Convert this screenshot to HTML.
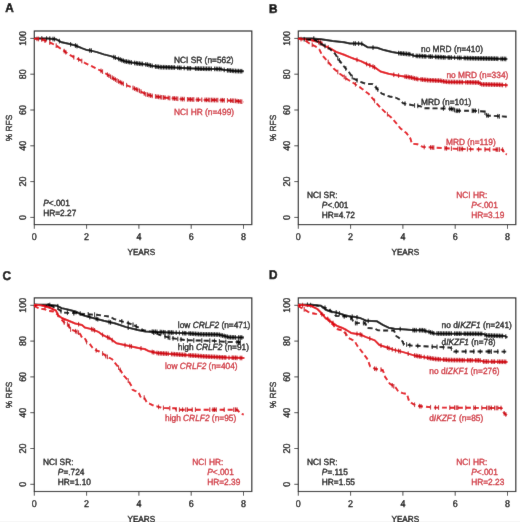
<!DOCTYPE html><html><head><meta charset="utf-8"><style>html,body{margin:0;padding:0;background:#fff;}svg{display:block;text-rendering:geometricPrecision;}</style></head><body>
<svg width="520" height="522" viewBox="0 0 520 522" font-family='"Liberation Sans", sans-serif'>
<defs><filter id="bl" x="0" y="0" width="1" height="1"><feConvolveMatrix order="3" kernelMatrix="0.01 0.05 0.01 0.05 0.76 0.05 0.01 0.05 0.01" preserveAlpha="true" edgeMode="duplicate"/></filter></defs><g filter="url(#bl)">
<style>.tk{fill:#000;stroke:#000;stroke-width:0.3px} .lk{fill:#000;stroke:#000;stroke-width:0.3px} .lr{fill:#cf2a36;stroke:#cf2a36;stroke-width:0.3px} .pl{fill:#000;stroke:#000;stroke-width:0.45px}</style>
<rect width="520" height="522" fill="#fff"/>
<g transform="translate(0,0)">
<text transform="translate(5.3,11.8) scale(1,1.07)" font-size="11.8" font-weight="bold" class="pl">A</text>
<rect x="34.3" y="31.0" width="217.5" height="193.6" fill="none" stroke="#1a1a1a" stroke-width="1.15"/>
<line x1="30.3" y1="217.4" x2="34.3" y2="217.4" stroke="#333" stroke-width="0.9"/>
<text transform="translate(25.6,217.4) rotate(-90) scale(1,1.1)" text-anchor="middle" font-size="8.95" class="tk">0</text>
<line x1="30.3" y1="181.6" x2="34.3" y2="181.6" stroke="#333" stroke-width="0.9"/>
<text transform="translate(25.6,181.6) rotate(-90) scale(1,1.1)" text-anchor="middle" font-size="8.95" class="tk">20</text>
<line x1="30.3" y1="145.8" x2="34.3" y2="145.8" stroke="#333" stroke-width="0.9"/>
<text transform="translate(25.6,145.8) rotate(-90) scale(1,1.1)" text-anchor="middle" font-size="8.95" class="tk">40</text>
<line x1="30.3" y1="110.0" x2="34.3" y2="110.0" stroke="#333" stroke-width="0.9"/>
<text transform="translate(25.6,110.0) rotate(-90) scale(1,1.1)" text-anchor="middle" font-size="8.95" class="tk">60</text>
<line x1="30.3" y1="74.2" x2="34.3" y2="74.2" stroke="#333" stroke-width="0.9"/>
<text transform="translate(25.6,74.2) rotate(-90) scale(1,1.1)" text-anchor="middle" font-size="8.95" class="tk">80</text>
<line x1="30.3" y1="38.4" x2="34.3" y2="38.4" stroke="#333" stroke-width="0.9"/>
<text transform="translate(25.6,38.4) rotate(-90) scale(1,1.1)" text-anchor="middle" font-size="8.95" class="tk">100</text>
<line x1="34.3" y1="224.6" x2="34.3" y2="228.8" stroke="#333" stroke-width="0.9"/>
<text transform="translate(34.3,239.9) scale(1,1.1)" text-anchor="middle" font-size="8.95" class="tk">0</text>
<line x1="86.6" y1="224.6" x2="86.6" y2="228.8" stroke="#333" stroke-width="0.9"/>
<text transform="translate(86.6,239.9) scale(1,1.1)" text-anchor="middle" font-size="8.95" class="tk">2</text>
<line x1="138.9" y1="224.6" x2="138.9" y2="228.8" stroke="#333" stroke-width="0.9"/>
<text transform="translate(138.9,239.9) scale(1,1.1)" text-anchor="middle" font-size="8.95" class="tk">4</text>
<line x1="191.2" y1="224.6" x2="191.2" y2="228.8" stroke="#333" stroke-width="0.9"/>
<text transform="translate(191.2,239.9) scale(1,1.1)" text-anchor="middle" font-size="8.95" class="tk">6</text>
<line x1="243.5" y1="224.6" x2="243.5" y2="228.8" stroke="#333" stroke-width="0.9"/>
<text transform="translate(243.5,239.9) scale(1,1.1)" text-anchor="middle" font-size="8.95" class="tk">8</text>
<text transform="translate(141.3,254.7) scale(1,1.07)" text-anchor="middle" font-size="8.2" class="tk">YEARS</text>
<text transform="translate(11.9,128) rotate(-90) scale(1,1.05)" text-anchor="middle" font-size="8.4" class="tk">% RFS</text>
</g>
<path d="M34.0,38.4 L47.8,38.6 L55.9,39.2 L61.7,42.3 L68.6,43.8 L75.5,45.5 L82.4,48.4 L87.0,50.1 L90.0,50.4 L96.9,52.1 L103.8,54.4 L110.8,56.1 L117.7,58.5 L124.6,61.3 L131.5,62.5 L138.4,63.6 L146.0,64.4 L152.9,66.1 L159.8,67.1 L173.7,67.5 L187.5,68.2 L200.0,68.7 L220.8,69.0 L223.0,69.8 L234.6,71.0 L243.8,71.3" fill="none" stroke="#000" stroke-width="2.0" stroke-linejoin="round"/>
<path d="M41.8,36.2v4.6M46.6,36.3v4.6M49.8,36.4v4.6M53.0,36.7v4.6M54.6,36.8v4.6M59.4,38.8v4.6M70.6,42.0v4.6M75.4,43.2v4.6M77.0,43.8v4.6M89.8,48.1v4.6M91.4,48.4v4.6M113.8,54.8v4.6M115.4,55.4v4.6M118.6,56.6v4.6M120.2,57.2v4.6M121.8,57.9v4.6M123.4,58.5v4.6M125.0,59.1v4.6M126.6,59.3v4.6M128.2,59.6v4.6M129.8,59.9v4.6M131.4,60.2v4.6M134.6,60.7v4.6M136.2,60.9v4.6M137.8,61.2v4.6M139.4,61.4v4.6M141.0,61.6v4.6M142.6,61.7v4.6M145.8,62.1v4.6M147.4,62.4v4.6M149.0,62.8v4.6M150.6,63.2v4.6M152.2,63.6v4.6M155.4,64.2v4.6M157.0,64.4v4.6M158.6,64.6v4.6M160.2,64.8v4.6M161.8,64.9v4.6M163.4,64.9v4.6M165.0,64.9v4.6M166.6,65.0v4.6M168.2,65.0v4.6M169.8,65.1v4.6M171.4,65.1v4.6M173.0,65.2v4.6M174.6,65.2v4.6M177.8,65.4v4.6M179.4,65.5v4.6M181.0,65.6v4.6M184.2,65.7v4.6M187.4,65.9v4.6M189.0,66.0v4.6M190.6,66.0v4.6M195.4,66.2v4.6M197.0,66.3v4.6M198.6,66.3v4.6M200.2,66.4v4.6M201.8,66.4v4.6M203.4,66.4v4.6M205.0,66.5v4.6M206.6,66.5v4.6M208.2,66.5v4.6M209.8,66.5v4.6M211.4,66.6v4.6M214.6,66.6v4.6M216.2,66.6v4.6M217.8,66.7v4.6M219.4,66.7v4.6M221.0,66.8v4.6M224.2,67.6v4.6M227.4,68.0v4.6M229.0,68.1v4.6M230.6,68.3v4.6M232.2,68.5v4.6M233.8,68.6v4.6M235.4,68.7v4.6M237.0,68.8v4.6M238.6,68.8v4.6M240.2,68.9v4.6M241.8,68.9v4.6" stroke="#000" stroke-width="1.0" fill="none"/>
<path d="M34.0,38.6 L40.9,39.2 L45.5,40.9 L51.3,43.2 L57.1,46.1 L62.8,50.1 L68.6,54.2 L74.4,57.6 L80.1,60.0 L84.7,62.8 L88.2,64.6 L90.0,65.4 L96.9,68.8 L103.8,72.3 L110.8,76.9 L117.7,80.9 L124.6,84.4 L131.5,87.3 L138.4,90.2 L146.0,94.4 L152.9,96.1 L163.3,97.5 L180.6,99.0 L200.0,99.8 L223.0,100.2 L234.6,100.8 L243.8,101.9" fill="none" stroke="#e4000f" stroke-width="1.9" stroke-linejoin="round" stroke-dasharray="5,3"/>
<path d="M37.0,36.6v4.6M38.6,36.7v4.6M41.8,37.2v4.6M45.0,38.4v4.6M49.8,40.3v4.6M56.2,43.4v4.6M64.2,48.8v4.6M65.8,49.9v4.6M73.8,54.9v4.6M78.6,57.1v4.6M81.8,58.7v4.6M101.0,68.6v4.6M102.6,69.4v4.6M107.4,72.4v4.6M109.0,73.4v4.6M110.6,74.5v4.6M112.2,75.4v4.6M113.8,76.3v4.6M115.4,77.3v4.6M117.0,78.2v4.6M118.6,79.1v4.6M120.2,79.9v4.6M121.8,80.7v4.6M123.4,81.5v4.6M126.6,82.9v4.6M133.0,85.6v4.6M134.6,86.3v4.6M136.2,87.0v4.6M137.8,87.6v4.6M139.4,88.5v4.6M141.0,89.3v4.6M144.2,91.1v4.6M145.8,92.0v4.6M147.4,92.4v4.6M149.0,92.8v4.6M150.6,93.2v4.6M152.2,93.6v4.6M155.4,94.1v4.6M157.0,94.4v4.6M158.6,94.6v4.6M160.2,94.8v4.6M161.8,95.0v4.6M163.4,95.2v4.6M165.0,95.3v4.6M168.2,95.6v4.6M169.8,95.8v4.6M173.0,96.0v4.6M174.6,96.2v4.6M176.2,96.3v4.6M177.8,96.5v4.6M181.0,96.7v4.6M182.6,96.8v4.6M184.2,96.8v4.6M187.4,97.0v4.6M189.0,97.0v4.6M190.6,97.1v4.6M192.2,97.2v4.6M193.8,97.2v4.6M197.0,97.4v4.6M198.6,97.4v4.6M201.8,97.5v4.6M205.0,97.6v4.6M206.6,97.6v4.6M208.2,97.6v4.6M209.8,97.7v4.6M211.4,97.7v4.6M213.0,97.7v4.6M214.6,97.8v4.6M216.2,97.8v4.6M217.8,97.8v4.6M221.0,97.9v4.6M222.6,97.9v4.6M224.2,98.0v4.6M227.4,98.1v4.6M230.6,98.3v4.6M232.2,98.4v4.6M233.8,98.5v4.6M235.4,98.6v4.6M237.0,98.8v4.6M238.6,99.0v4.6M240.2,99.2v4.6M241.8,99.4v4.6" stroke="#c4000e" stroke-width="1.0" fill="none"/>
<text transform="translate(174,62.6) scale(1,1.07)" font-size="8.35" class="lk">NCI SR (n=562)</text>
<text transform="translate(174,115.0) scale(1,1.07)" font-size="8.35" class="lr">NCI HR (n=499)</text>
<text transform="translate(43.2,206) scale(1,1.07)" font-size="8.35" class="lk"><tspan font-style="italic">P</tspan>&lt;.001</text>
<text transform="translate(43.2,216) scale(1,1.07)" font-size="8.35" class="lk">HR=2.27</text>
<g transform="translate(264,0)">
<text transform="translate(5.1,12.5) scale(1,1.07)" font-size="11.8" font-weight="bold" class="pl">B</text>
<rect x="34.3" y="31.0" width="217.5" height="193.6" fill="none" stroke="#1a1a1a" stroke-width="1.15"/>
<line x1="30.3" y1="217.4" x2="34.3" y2="217.4" stroke="#333" stroke-width="0.9"/>
<text transform="translate(25.6,217.4) rotate(-90) scale(1,1.1)" text-anchor="middle" font-size="8.95" class="tk">0</text>
<line x1="30.3" y1="181.6" x2="34.3" y2="181.6" stroke="#333" stroke-width="0.9"/>
<text transform="translate(25.6,181.6) rotate(-90) scale(1,1.1)" text-anchor="middle" font-size="8.95" class="tk">20</text>
<line x1="30.3" y1="145.8" x2="34.3" y2="145.8" stroke="#333" stroke-width="0.9"/>
<text transform="translate(25.6,145.8) rotate(-90) scale(1,1.1)" text-anchor="middle" font-size="8.95" class="tk">40</text>
<line x1="30.3" y1="110.0" x2="34.3" y2="110.0" stroke="#333" stroke-width="0.9"/>
<text transform="translate(25.6,110.0) rotate(-90) scale(1,1.1)" text-anchor="middle" font-size="8.95" class="tk">60</text>
<line x1="30.3" y1="74.2" x2="34.3" y2="74.2" stroke="#333" stroke-width="0.9"/>
<text transform="translate(25.6,74.2) rotate(-90) scale(1,1.1)" text-anchor="middle" font-size="8.95" class="tk">80</text>
<line x1="30.3" y1="38.4" x2="34.3" y2="38.4" stroke="#333" stroke-width="0.9"/>
<text transform="translate(25.6,38.4) rotate(-90) scale(1,1.1)" text-anchor="middle" font-size="8.95" class="tk">100</text>
<line x1="34.3" y1="224.6" x2="34.3" y2="228.8" stroke="#333" stroke-width="0.9"/>
<text transform="translate(34.3,239.9) scale(1,1.1)" text-anchor="middle" font-size="8.95" class="tk">0</text>
<line x1="86.6" y1="224.6" x2="86.6" y2="228.8" stroke="#333" stroke-width="0.9"/>
<text transform="translate(86.6,239.9) scale(1,1.1)" text-anchor="middle" font-size="8.95" class="tk">2</text>
<line x1="138.9" y1="224.6" x2="138.9" y2="228.8" stroke="#333" stroke-width="0.9"/>
<text transform="translate(138.9,239.9) scale(1,1.1)" text-anchor="middle" font-size="8.95" class="tk">4</text>
<line x1="191.2" y1="224.6" x2="191.2" y2="228.8" stroke="#333" stroke-width="0.9"/>
<text transform="translate(191.2,239.9) scale(1,1.1)" text-anchor="middle" font-size="8.95" class="tk">6</text>
<line x1="243.5" y1="224.6" x2="243.5" y2="228.8" stroke="#333" stroke-width="0.9"/>
<text transform="translate(243.5,239.9) scale(1,1.1)" text-anchor="middle" font-size="8.95" class="tk">8</text>
<text transform="translate(141.3,254.7) scale(1,1.07)" text-anchor="middle" font-size="8.2" class="tk">YEARS</text>
<text transform="translate(11.9,128) rotate(-90) scale(1,1.05)" text-anchor="middle" font-size="8.4" class="tk">% RFS</text>
</g>
<path d="M298.0,38.4 L311.8,38.4 L321.1,39.2 L332.6,40.9 L344.1,42.3 L349.9,43.5 L358.0,43.6 L362.1,43.8 L367.8,47.3 L377.1,47.8 L384.0,50.1 L392.1,51.9 L397.8,53.0 L404.7,53.8 L410.0,54.2 L414.6,55.9 L421.5,56.1 L433.1,56.8 L450.4,57.6 L470.0,58.2 L490.0,58.6 L507.3,59.0" fill="none" stroke="#000" stroke-width="2.0" stroke-linejoin="round"/>
<path d="M313.8,36.3v4.6M353.8,41.2v4.6M355.4,41.3v4.6M358.6,41.3v4.6M361.8,41.5v4.6M373.0,45.3v4.6M398.6,50.8v4.6M400.2,51.0v4.6M401.8,51.2v4.6M403.4,51.3v4.6M405.0,51.5v4.6M406.6,51.6v4.6M408.2,51.8v4.6M409.8,51.9v4.6M413.0,53.0v4.6M416.2,53.6v4.6M417.8,53.7v4.6M419.4,53.7v4.6M421.0,53.8v4.6M422.6,53.9v4.6M424.2,54.0v4.6M425.8,54.1v4.6M429.0,54.3v4.6M430.6,54.3v4.6M432.2,54.4v4.6M435.4,54.6v4.6M437.0,54.7v4.6M438.6,54.8v4.6M440.2,54.8v4.6M441.8,54.9v4.6M443.4,55.0v4.6M445.0,55.1v4.6M448.2,55.2v4.6M449.8,55.3v4.6M451.4,55.3v4.6M454.6,55.4v4.6M457.8,55.5v4.6M459.4,55.6v4.6M461.0,55.6v4.6M464.2,55.7v4.6M465.8,55.8v4.6M467.4,55.8v4.6M469.0,55.9v4.6M470.6,55.9v4.6M472.2,55.9v4.6M473.8,56.0v4.6M475.4,56.0v4.6M477.0,56.0v4.6M478.6,56.1v4.6M480.2,56.1v4.6M481.8,56.1v4.6M483.4,56.2v4.6M485.0,56.2v4.6M486.6,56.2v4.6M488.2,56.3v4.6M489.8,56.3v4.6M491.4,56.3v4.6M493.0,56.4v4.6M494.6,56.4v4.6M496.2,56.4v4.6M497.8,56.5v4.6M501.0,56.6v4.6M502.6,56.6v4.6M504.2,56.6v4.6M505.8,56.7v4.6" stroke="#000" stroke-width="1.0" fill="none"/>
<path d="M298.0,38.6 L309.5,39.8 L321.1,42.7 L323.4,45.5 L330.3,48.4 L336.1,51.9 L344.1,54.8 L351.0,57.6 L354.0,58.8 L360.9,61.1 L366.7,64.0 L374.8,67.4 L380.5,71.5 L388.6,73.8 L397.8,75.5 L405.9,76.7 L410.0,77.3 L416.9,79.0 L427.3,80.1 L440.0,80.7 L446.9,81.9 L470.0,82.3 L479.0,82.6 L481.0,84.3 L500.0,84.8 L507.7,85.3" fill="none" stroke="#e4000f" stroke-width="2.0" stroke-linejoin="round"/>
<path d="M318.6,39.8v4.6M320.2,40.2v4.6M321.8,41.3v4.6M328.2,45.2v4.6M357.0,57.5v4.6M366.6,61.7v4.6M369.8,63.0v4.6M373.0,64.3v4.6M374.6,65.0v4.6M393.8,72.5v4.6M398.6,73.3v4.6M405.0,74.3v4.6M406.6,74.5v4.6M408.2,74.7v4.6M409.8,75.0v4.6M411.4,75.3v4.6M413.0,75.7v4.6M414.6,76.1v4.6M416.2,76.5v4.6M417.8,76.8v4.6M421.0,77.1v4.6M422.6,77.3v4.6M424.2,77.5v4.6M425.8,77.6v4.6M427.4,77.8v4.6M429.0,77.9v4.6M430.6,78.0v4.6M432.2,78.0v4.6M433.8,78.1v4.6M435.4,78.2v4.6M437.0,78.3v4.6M438.6,78.3v4.6M440.2,78.4v4.6M441.8,78.7v4.6M443.4,79.0v4.6M445.0,79.3v4.6M446.6,79.5v4.6M448.2,79.6v4.6M449.8,79.7v4.6M451.4,79.7v4.6M453.0,79.7v4.6M454.6,79.7v4.6M456.2,79.8v4.6M457.8,79.8v4.6M459.4,79.8v4.6M461.0,79.8v4.6M462.6,79.9v4.6M465.8,79.9v4.6M467.4,80.0v4.6M469.0,80.0v4.6M470.6,80.0v4.6M472.2,80.1v4.6M473.8,80.1v4.6M475.4,80.2v4.6M477.0,80.2v4.6M478.6,80.3v4.6M480.2,81.3v4.6M481.8,82.0v4.6M483.4,82.1v4.6M485.0,82.1v4.6M486.6,82.1v4.6M488.2,82.2v4.6M489.8,82.2v4.6M491.4,82.3v4.6M493.0,82.3v4.6M494.6,82.4v4.6M496.2,82.4v4.6M497.8,82.4v4.6M499.4,82.5v4.6M501.0,82.6v4.6M502.6,82.7v4.6M505.8,82.9v4.6" stroke="#c4000e" stroke-width="1.0" fill="none"/>
<path d="M298.0,38.6 L315.3,40.3 L322.2,44.4 L329.1,48.4 L334.9,53.6 L337.8,58.2 L343.5,65.8 L349.2,72.5 L353.1,78.3 L358.8,81.2 L366.5,84.0 L372.3,84.0 L376.2,87.9 L381.9,93.7 L389.6,96.5 L395.4,97.5 L399.2,99.4 L403.1,103.3 L412.7,105.2 L420.4,106.2 L423.8,108.2 L444.6,108.5 L452.7,109.0 L456.1,110.8 L474.8,110.8 L484.2,111.5 L486.8,115.5 L508.3,116.8" fill="none" stroke="#000" stroke-width="1.9" stroke-linejoin="round" stroke-dasharray="5,3"/>
<path d="M304.2,36.9v4.6M320.2,40.9v4.6M325.0,43.7v4.6M337.8,55.9v4.6M339.4,58.0v4.6M345.8,66.2v4.6M352.2,74.7v4.6M357.0,78.0v4.6M376.2,85.6v4.6M377.8,87.2v4.6M405.0,101.4v4.6M414.6,103.1v4.6M417.8,103.6v4.6M443.4,106.2v4.6M449.8,106.5v4.6M451.4,106.6v4.6M453.0,106.9v4.6M454.6,107.7v4.6M456.2,108.5v4.6M457.8,108.5v4.6M459.4,108.5v4.6M472.2,108.5v4.6M473.8,108.5v4.6M475.4,108.5v4.6M478.6,108.8v4.6M485.0,110.4v4.6M486.6,112.9v4.6M488.2,113.3v4.6M497.8,113.9v4.6M499.4,114.0v4.6" stroke="#000" stroke-width="1.0" fill="none"/>
<path d="M298.0,38.6 L303.8,39.6 L309.5,43.5 L315.3,46.3 L319.2,49.2 L322.0,55.0 L328.8,62.7 L333.6,68.5 L339.6,73.5 L347.3,79.2 L355.0,84.0 L360.8,87.9 L368.5,93.7 L374.2,100.4 L380.0,107.1 L385.8,112.9 L391.5,117.7 L397.3,124.4 L400.5,128.5 L406.5,133.1 L410.4,138.5 L411.9,143.8 L417.3,144.2 L422.7,146.9 L435.0,147.7 L460.0,149.0 L503.0,149.7 L504.3,153.8 L507.0,154.4" fill="none" stroke="#e4000f" stroke-width="1.9" stroke-linejoin="round" stroke-dasharray="5,3"/>
<path d="M301.0,36.8v4.6M312.2,42.5v4.6M328.2,59.7v4.6M337.8,69.7v4.6M344.2,74.6v4.6M345.8,75.8v4.6M355.4,82.0v4.6M374.6,98.6v4.6M387.4,111.9v4.6M424.2,144.7v4.6M430.6,145.1v4.6M432.2,145.2v4.6M433.8,145.3v4.6M445.0,145.9v4.6M446.6,146.0v4.6M451.4,146.3v4.6M457.8,146.6v4.6M459.4,146.7v4.6M461.0,146.7v4.6M462.6,146.7v4.6M467.4,146.8v4.6M470.6,146.9v4.6M478.6,147.0v4.6M485.0,147.1v4.6M489.8,147.2v4.6M496.2,147.3v4.6M497.8,147.3v4.6M499.4,147.3v4.6M502.6,147.4v4.6" stroke="#c4000e" stroke-width="1.0" fill="none"/>
<text transform="translate(421,51.5) scale(1,1.07)" font-size="8.35" class="lk">no MRD (n=410)</text>
<text transform="translate(446.4,77.9) scale(1,1.07)" font-size="8.35" class="lr">no MRD (n=334)</text>
<text transform="translate(421,104.7) scale(1,1.07)" font-size="8.35" class="lk">MRD (n=101)</text>
<text transform="translate(446,144.6) scale(1,1.07)" font-size="8.35" class="lr">MRD (n=119)</text>
<text transform="translate(306.9,198) scale(1,1.07)" font-size="8.35" class="lk">NCI SR:</text>
<text transform="translate(321.8,208) scale(1,1.07)" font-size="8.35" class="lk"><tspan font-style="italic">P</tspan>&lt;.001</text>
<text transform="translate(321.8,218) scale(1,1.07)" font-size="8.35" class="lk">HR=4.72</text>
<text transform="translate(456.2,198) scale(1,1.07)" font-size="8.35" class="lr">NCI HR:</text>
<text transform="translate(471.2,208) scale(1,1.07)" font-size="8.35" class="lr"><tspan font-style="italic">P</tspan>&lt;.001</text>
<text transform="translate(471.2,218) scale(1,1.07)" font-size="8.35" class="lr">HR=3.19</text>
<g transform="translate(0,266.9)">
<text transform="translate(2.6,12.9) scale(1,1.07)" font-size="11.8" font-weight="bold" class="pl">C</text>
<rect x="34.3" y="31.0" width="217.5" height="193.6" fill="none" stroke="#1a1a1a" stroke-width="1.15"/>
<line x1="30.3" y1="217.4" x2="34.3" y2="217.4" stroke="#333" stroke-width="0.9"/>
<text transform="translate(25.6,217.4) rotate(-90) scale(1,1.1)" text-anchor="middle" font-size="8.95" class="tk">0</text>
<line x1="30.3" y1="181.6" x2="34.3" y2="181.6" stroke="#333" stroke-width="0.9"/>
<text transform="translate(25.6,181.6) rotate(-90) scale(1,1.1)" text-anchor="middle" font-size="8.95" class="tk">20</text>
<line x1="30.3" y1="145.8" x2="34.3" y2="145.8" stroke="#333" stroke-width="0.9"/>
<text transform="translate(25.6,145.8) rotate(-90) scale(1,1.1)" text-anchor="middle" font-size="8.95" class="tk">40</text>
<line x1="30.3" y1="110.0" x2="34.3" y2="110.0" stroke="#333" stroke-width="0.9"/>
<text transform="translate(25.6,110.0) rotate(-90) scale(1,1.1)" text-anchor="middle" font-size="8.95" class="tk">60</text>
<line x1="30.3" y1="74.2" x2="34.3" y2="74.2" stroke="#333" stroke-width="0.9"/>
<text transform="translate(25.6,74.2) rotate(-90) scale(1,1.1)" text-anchor="middle" font-size="8.95" class="tk">80</text>
<line x1="30.3" y1="38.4" x2="34.3" y2="38.4" stroke="#333" stroke-width="0.9"/>
<text transform="translate(25.6,38.4) rotate(-90) scale(1,1.1)" text-anchor="middle" font-size="8.95" class="tk">100</text>
<line x1="34.3" y1="224.6" x2="34.3" y2="228.8" stroke="#333" stroke-width="0.9"/>
<text transform="translate(34.3,239.9) scale(1,1.1)" text-anchor="middle" font-size="8.95" class="tk">0</text>
<line x1="86.6" y1="224.6" x2="86.6" y2="228.8" stroke="#333" stroke-width="0.9"/>
<text transform="translate(86.6,239.9) scale(1,1.1)" text-anchor="middle" font-size="8.95" class="tk">2</text>
<line x1="138.9" y1="224.6" x2="138.9" y2="228.8" stroke="#333" stroke-width="0.9"/>
<text transform="translate(138.9,239.9) scale(1,1.1)" text-anchor="middle" font-size="8.95" class="tk">4</text>
<line x1="191.2" y1="224.6" x2="191.2" y2="228.8" stroke="#333" stroke-width="0.9"/>
<text transform="translate(191.2,239.9) scale(1,1.1)" text-anchor="middle" font-size="8.95" class="tk">6</text>
<line x1="243.5" y1="224.6" x2="243.5" y2="228.8" stroke="#333" stroke-width="0.9"/>
<text transform="translate(243.5,239.9) scale(1,1.1)" text-anchor="middle" font-size="8.95" class="tk">8</text>
<text transform="translate(141.3,254.7) scale(1,1.07)" text-anchor="middle" font-size="8.2" class="tk">YEARS</text>
<text transform="translate(11.9,128) rotate(-90) scale(1,1.05)" text-anchor="middle" font-size="8.4" class="tk">% RFS</text>
</g>
<path d="M34.0,304.8 L47.8,304.8 L57.1,305.8 L61.7,308.1 L68.6,309.8 L75.5,311.5 L82.4,315.0 L88.2,316.7 L96.9,319.0 L103.8,320.8 L114.6,323.3 L126.2,327.1 L137.7,330.0 L145.4,331.5 L156.9,331.9 L180.0,332.9 L190.7,333.6 L200.0,334.2 L218.4,334.6 L223.6,335.8 L229.0,337.2 L244.0,337.6" fill="none" stroke="#000" stroke-width="2.0" stroke-linejoin="round"/>
<path d="M49.8,302.7v4.6M57.8,303.9v4.6M89.8,314.8v4.6M96.2,316.5v4.6M97.8,316.9v4.6M109.0,319.7v4.6M110.6,320.1v4.6M128.2,325.3v4.6M152.2,329.4v4.6M153.8,329.5v4.6M155.4,329.5v4.6M157.0,329.6v4.6M160.2,329.7v4.6M161.8,329.8v4.6M163.4,329.9v4.6M165.0,330.0v4.6M168.2,330.1v4.6M169.8,330.2v4.6M171.4,330.2v4.6M173.0,330.3v4.6M176.2,330.4v4.6M179.4,330.6v4.6M182.6,330.8v4.6M184.2,330.9v4.6M185.8,331.0v4.6M189.0,331.2v4.6M190.6,331.3v4.6M192.2,331.4v4.6M193.8,331.5v4.6M195.4,331.6v4.6M197.0,331.7v4.6M198.6,331.8v4.6M200.2,331.9v4.6M201.8,331.9v4.6M203.4,332.0v4.6M205.0,332.0v4.6M206.6,332.0v4.6M208.2,332.1v4.6M209.8,332.1v4.6M211.4,332.1v4.6M213.0,332.2v4.6M214.6,332.2v4.6M216.2,332.3v4.6M217.8,332.3v4.6M219.4,332.5v4.6M221.0,332.9v4.6M222.6,333.3v4.6M224.2,333.7v4.6M225.8,334.1v4.6M227.4,334.5v4.6M229.0,334.9v4.6M230.6,334.9v4.6M232.2,335.0v4.6M233.8,335.0v4.6M235.4,335.1v4.6M238.6,335.2v4.6M240.2,335.2v4.6M241.8,335.2v4.6" stroke="#000" stroke-width="1.0" fill="none"/>
<path d="M34.0,304.8 L50.0,305.5 L58.0,309.0 L63.0,312.6 L71.0,313.0 L80.0,313.6 L90.0,314.4 L96.9,314.8 L103.8,315.8 L110.5,316.8 L113.5,318.8 L119.0,320.6 L126.5,322.5 L132.5,324.6 L137.7,327.1 L143.5,330.2 L152.0,332.0 L160.0,335.0 L170.0,337.9 L187.3,340.3 L213.3,340.8 L227.1,342.0 L242.7,342.0" fill="none" stroke="#000" stroke-width="1.9" stroke-linejoin="round" stroke-dasharray="5,3"/>
<path d="M48.2,303.1v4.6M61.0,308.9v4.6M67.4,310.5v4.6M73.8,310.9v4.6M80.2,311.3v4.6M88.2,312.0v4.6M94.6,312.4v4.6M121.8,319.0v4.6M128.2,320.8v4.6M133.0,322.5v4.6M136.2,324.1v4.6M153.8,330.4v4.6M165.0,334.1v4.6M168.2,335.1v4.6M169.8,335.5v4.6M173.0,336.0v4.6M177.8,336.7v4.6M181.0,337.1v4.6M187.4,338.0v4.6M193.8,338.1v4.6M201.8,338.3v4.6M209.8,338.4v4.6M214.6,338.6v4.6M219.4,339.0v4.6M225.8,339.6v4.6M237.0,339.7v4.6M238.6,339.7v4.6M240.2,339.7v4.6" stroke="#000" stroke-width="1.0" fill="none"/>
<path d="M34.0,304.8 L40.9,305.2 L49.0,307.5 L55.9,310.4 L57.9,315.0 L61.8,318.0 L70.4,321.5 L75.2,323.5 L82.0,325.0 L84.8,327.5 L92.5,329.4 L98.3,331.8 L102.2,334.7 L106.0,336.6 L109.6,338.1 L116.5,343.3 L124.6,345.0 L132.7,346.7 L140.7,348.4 L144.6,349.0 L149.2,351.3 L157.3,353.1 L174.6,354.2 L204.6,356.4 L227.1,357.6 L244.4,358.1" fill="none" stroke="#e4000f" stroke-width="2.0" stroke-linejoin="round"/>
<path d="M45.0,304.1v4.6M57.8,312.5v4.6M78.6,321.9v4.6M91.4,326.8v4.6M93.0,327.3v4.6M94.6,328.0v4.6M102.6,332.6v4.6M107.4,334.9v4.6M109.0,335.5v4.6M112.2,337.8v4.6M125.0,342.8v4.6M129.8,343.8v4.6M131.4,344.1v4.6M141.0,346.1v4.6M152.2,349.7v4.6M153.8,350.0v4.6M157.0,350.7v4.6M158.6,350.9v4.6M160.2,351.0v4.6M161.8,351.1v4.6M163.4,351.2v4.6M165.0,351.3v4.6M166.6,351.4v4.6M168.2,351.5v4.6M171.4,351.7v4.6M173.0,351.8v4.6M174.6,351.9v4.6M176.2,352.0v4.6M177.8,352.1v4.6M179.4,352.3v4.6M181.0,352.4v4.6M182.6,352.5v4.6M184.2,352.6v4.6M185.8,352.7v4.6M189.0,353.0v4.6M190.6,353.1v4.6M192.2,353.2v4.6M193.8,353.3v4.6M195.4,353.4v4.6M197.0,353.5v4.6M198.6,353.7v4.6M200.2,353.8v4.6M201.8,353.9v4.6M203.4,354.0v4.6M205.0,354.1v4.6M206.6,354.2v4.6M208.2,354.3v4.6M209.8,354.4v4.6M211.4,354.5v4.6M213.0,354.5v4.6M214.6,354.6v4.6M216.2,354.7v4.6M217.8,354.8v4.6M219.4,354.9v4.6M221.0,355.0v4.6M222.6,355.1v4.6M224.2,355.1v4.6M225.8,355.2v4.6M229.0,355.4v4.6M232.2,355.4v4.6M233.8,355.5v4.6M235.4,355.5v4.6M237.0,355.6v4.6M240.2,355.7v4.6M241.8,355.7v4.6" stroke="#c4000e" stroke-width="1.0" fill="none"/>
<path d="M34.0,306.0 L39.8,308.7 L44.4,309.2 L49.0,311.0 L53.6,311.5 L58.0,315.0 L61.0,319.0 L65.6,324.1 L68.5,324.6 L70.4,329.4 L73.3,330.4 L78.1,332.3 L80.0,333.8 L82.0,337.6 L84.8,338.1 L86.8,342.4 L89.7,343.8 L92.5,347.7 L94.5,349.6 L99.3,351.5 L104.0,354.4 L106.0,356.3 L111.9,359.0 L116.5,364.8 L121.1,371.1 L123.4,375.5 L125.0,376.9 L128.8,381.3 L131.7,386.5 L132.7,389.9 L138.5,392.3 L140.4,396.6 L144.2,397.6 L147.1,402.9 L150.0,403.8 L153.8,405.8 L156.7,406.3 L161.5,407.7 L165.4,408.1 L175.0,408.3 L176.5,409.7 L237.5,409.7 L240.0,413.2 L243.7,414.6" fill="none" stroke="#e4000f" stroke-width="1.9" stroke-linejoin="round" stroke-dasharray="5,3"/>
<path d="M64.2,320.2v4.6M67.4,322.1v4.6M69.0,323.6v4.6M70.6,327.2v4.6M75.4,328.9v4.6M77.0,329.6v4.6M78.6,330.4v4.6M86.6,339.7v4.6M96.2,348.0v4.6M102.6,351.2v4.6M105.8,353.8v4.6M107.4,354.6v4.6M118.6,365.4v4.6M120.2,367.6v4.6M128.2,378.3v4.6M144.2,395.3v4.6M158.6,404.6v4.6M163.4,405.6v4.6M169.8,405.9v4.6M176.2,407.1v4.6M179.4,407.4v4.6M182.6,407.4v4.6M185.8,407.4v4.6M187.4,407.4v4.6M192.2,407.4v4.6M195.4,407.4v4.6M209.8,407.4v4.6M213.0,407.4v4.6M214.6,407.4v4.6M216.2,407.4v4.6M224.2,407.4v4.6M233.8,407.4v4.6M235.4,407.4v4.6M237.0,407.4v4.6" stroke="#c4000e" stroke-width="1.0" fill="none"/>
<text transform="translate(177.8,327.6) scale(1,1.07)" font-size="8.35" class="lk">low <tspan font-style="italic">CRLF2</tspan> (n=471)</text>
<text transform="translate(177.8,349.5) scale(1,1.07)" font-size="8.35" class="lk">high <tspan font-style="italic">CRLF2</tspan> (n=91)</text>
<text transform="translate(165,368.9) scale(1,1.07)" font-size="8.35" class="lr">low <tspan font-style="italic">CRLF2</tspan> (n=404)</text>
<text transform="translate(165,421.2) scale(1,1.07)" font-size="8.35" class="lr">high <tspan font-style="italic">CRLF2</tspan> (n=95)</text>
<text transform="translate(42.9,464.6) scale(1,1.07)" font-size="8.35" class="lk">NCI SR:</text>
<text transform="translate(57.8,474.6) scale(1,1.07)" font-size="8.35" class="lk"><tspan font-style="italic">P</tspan>=.724</text>
<text transform="translate(57.8,484.6) scale(1,1.07)" font-size="8.35" class="lk">HR=1.10</text>
<text transform="translate(192.2,464.6) scale(1,1.07)" font-size="8.35" class="lr">NCI HR:</text>
<text transform="translate(207.2,474.6) scale(1,1.07)" font-size="8.35" class="lr"><tspan font-style="italic">P</tspan>&lt;.001</text>
<text transform="translate(207.2,484.6) scale(1,1.07)" font-size="8.35" class="lr">HR=2.39</text>
<g transform="translate(264,266.9)">
<text transform="translate(5.1,12.1) scale(1,1.07)" font-size="11.8" font-weight="bold" class="pl">D</text>
<rect x="34.3" y="31.0" width="217.5" height="193.6" fill="none" stroke="#1a1a1a" stroke-width="1.15"/>
<line x1="30.3" y1="217.4" x2="34.3" y2="217.4" stroke="#333" stroke-width="0.9"/>
<text transform="translate(25.6,217.4) rotate(-90) scale(1,1.1)" text-anchor="middle" font-size="8.95" class="tk">0</text>
<line x1="30.3" y1="181.6" x2="34.3" y2="181.6" stroke="#333" stroke-width="0.9"/>
<text transform="translate(25.6,181.6) rotate(-90) scale(1,1.1)" text-anchor="middle" font-size="8.95" class="tk">20</text>
<line x1="30.3" y1="145.8" x2="34.3" y2="145.8" stroke="#333" stroke-width="0.9"/>
<text transform="translate(25.6,145.8) rotate(-90) scale(1,1.1)" text-anchor="middle" font-size="8.95" class="tk">40</text>
<line x1="30.3" y1="110.0" x2="34.3" y2="110.0" stroke="#333" stroke-width="0.9"/>
<text transform="translate(25.6,110.0) rotate(-90) scale(1,1.1)" text-anchor="middle" font-size="8.95" class="tk">60</text>
<line x1="30.3" y1="74.2" x2="34.3" y2="74.2" stroke="#333" stroke-width="0.9"/>
<text transform="translate(25.6,74.2) rotate(-90) scale(1,1.1)" text-anchor="middle" font-size="8.95" class="tk">80</text>
<line x1="30.3" y1="38.4" x2="34.3" y2="38.4" stroke="#333" stroke-width="0.9"/>
<text transform="translate(25.6,38.4) rotate(-90) scale(1,1.1)" text-anchor="middle" font-size="8.95" class="tk">100</text>
<line x1="34.3" y1="224.6" x2="34.3" y2="228.8" stroke="#333" stroke-width="0.9"/>
<text transform="translate(34.3,239.9) scale(1,1.1)" text-anchor="middle" font-size="8.95" class="tk">0</text>
<line x1="86.6" y1="224.6" x2="86.6" y2="228.8" stroke="#333" stroke-width="0.9"/>
<text transform="translate(86.6,239.9) scale(1,1.1)" text-anchor="middle" font-size="8.95" class="tk">2</text>
<line x1="138.9" y1="224.6" x2="138.9" y2="228.8" stroke="#333" stroke-width="0.9"/>
<text transform="translate(138.9,239.9) scale(1,1.1)" text-anchor="middle" font-size="8.95" class="tk">4</text>
<line x1="191.2" y1="224.6" x2="191.2" y2="228.8" stroke="#333" stroke-width="0.9"/>
<text transform="translate(191.2,239.9) scale(1,1.1)" text-anchor="middle" font-size="8.95" class="tk">6</text>
<line x1="243.5" y1="224.6" x2="243.5" y2="228.8" stroke="#333" stroke-width="0.9"/>
<text transform="translate(243.5,239.9) scale(1,1.1)" text-anchor="middle" font-size="8.95" class="tk">8</text>
<text transform="translate(141.3,254.7) scale(1,1.07)" text-anchor="middle" font-size="8.2" class="tk">YEARS</text>
<text transform="translate(11.9,128) rotate(-90) scale(1,1.05)" text-anchor="middle" font-size="8.4" class="tk">% RFS</text>
</g>
<path d="M298.0,304.8 L311.8,304.8 L321.1,305.8 L325.7,309.8 L330.3,311.5 L337.2,312.7 L344.1,315.0 L351.0,316.7 L354.0,316.7 L359.8,317.9 L366.7,320.8 L377.1,321.3 L382.8,324.8 L388.6,327.7 L394.4,328.8 L405.9,329.4 L414.0,330.2 L423.1,330.2 L434.6,333.5 L483.1,333.9 L486.2,335.4 L504.6,336.1 L507.5,337.3" fill="none" stroke="#000" stroke-width="2.0" stroke-linejoin="round"/>
<path d="M307.4,302.5v4.6M336.2,310.2v4.6M339.4,311.1v4.6M352.2,314.4v4.6M357.0,315.0v4.6M368.2,318.6v4.6M400.2,326.8v4.6M413.0,327.8v4.6M414.6,327.9v4.6M416.2,327.9v4.6M419.4,327.9v4.6M421.0,327.9v4.6M422.6,327.9v4.6M424.2,328.2v4.6M425.8,328.7v4.6M429.0,329.6v4.6M430.6,330.1v4.6M432.2,330.5v4.6M433.8,331.0v4.6M437.0,331.2v4.6M438.6,331.2v4.6M440.2,331.2v4.6M441.8,331.3v4.6M443.4,331.3v4.6M445.0,331.3v4.6M446.6,331.3v4.6M448.2,331.3v4.6M449.8,331.3v4.6M451.4,331.3v4.6M454.6,331.4v4.6M456.2,331.4v4.6M457.8,331.4v4.6M459.4,331.4v4.6M461.0,331.4v4.6M464.2,331.4v4.6M465.8,331.5v4.6M467.4,331.5v4.6M469.0,331.5v4.6M470.6,331.5v4.6M472.2,331.5v4.6M473.8,331.5v4.6M475.4,331.5v4.6M477.0,331.5v4.6M478.6,331.6v4.6M480.2,331.6v4.6M481.8,331.6v4.6M485.0,332.5v4.6M486.6,333.1v4.6M488.2,333.2v4.6M489.8,333.2v4.6M491.4,333.3v4.6M493.0,333.4v4.6M494.6,333.4v4.6M496.2,333.5v4.6M497.8,333.5v4.6M499.4,333.6v4.6M501.0,333.7v4.6M502.6,333.7v4.6M505.8,334.3v4.6" stroke="#000" stroke-width="1.0" fill="none"/>
<path d="M298.0,304.8 L315.3,305.2 L323.4,307.5 L329.1,308.7 L331.4,311.5 L336.1,316.1 L341.8,316.2 L346.0,316.6 L351.8,318.3 L353.8,323.1 L365.3,323.1 L367.2,327.9 L374.8,328.6 L378.2,330.4 L394.0,330.6 L396.5,336.3 L401.3,339.2 L403.6,343.8 L411.7,345.6 L423.1,346.2 L450.8,347.6 L453.8,351.5 L506.2,351.6" fill="none" stroke="#000" stroke-width="1.9" stroke-linejoin="round" stroke-dasharray="5,3"/>
<path d="M310.6,302.8v4.6M325.0,305.5v4.6M344.2,314.1v4.6M350.6,315.6v4.6M355.4,320.8v4.6M357.0,320.8v4.6M363.4,320.8v4.6M365.0,320.8v4.6M403.4,341.1v4.6M406.6,342.2v4.6M409.8,342.9v4.6M417.8,343.6v4.6M432.2,344.4v4.6M437.0,344.6v4.6M443.4,344.9v4.6M451.4,346.1v4.6M456.2,349.2v4.6M465.8,349.2v4.6M473.8,349.2v4.6M480.2,349.3v4.6M488.2,349.3v4.6M489.8,349.3v4.6M491.4,349.3v4.6M497.8,349.3v4.6M504.2,349.3v4.6" stroke="#000" stroke-width="1.0" fill="none"/>
<path d="M298.0,304.8 L304.9,305.2 L311.8,306.3 L317.6,309.2 L322.2,313.8 L325.7,318.5 L331.4,321.9 L337.2,326.0 L341.8,327.7 L346.4,330.0 L351.0,332.9 L354.0,333.4 L360.9,334.6 L365.5,336.9 L374.8,340.4 L379.4,345.0 L386.3,347.3 L393.2,349.6 L402.4,351.9 L413.9,355.4 L434.6,358.9 L448.5,360.0 L480.0,360.4 L483.1,361.5 L507.5,361.9" fill="none" stroke="#e4000f" stroke-width="2.0" stroke-linejoin="round"/>
<path d="M302.6,302.8v4.6M329.8,318.6v4.6M333.0,320.7v4.6M357.0,331.6v4.6M360.2,332.2v4.6M361.8,332.8v4.6M369.8,336.2v4.6M381.0,343.2v4.6M387.4,345.4v4.6M389.0,345.9v4.6M392.2,347.0v4.6M395.4,347.9v4.6M398.6,348.7v4.6M400.2,349.1v4.6M408.2,351.4v4.6M414.6,353.2v4.6M416.2,353.5v4.6M417.8,353.8v4.6M419.4,354.0v4.6M421.0,354.3v4.6M424.2,354.8v4.6M427.4,355.4v4.6M429.0,355.7v4.6M430.6,355.9v4.6M432.2,356.2v4.6M433.8,356.5v4.6M435.4,356.7v4.6M437.0,356.8v4.6M438.6,356.9v4.6M440.2,357.0v4.6M443.4,357.3v4.6M445.0,357.4v4.6M446.6,357.5v4.6M448.2,357.7v4.6M449.8,357.7v4.6M451.4,357.7v4.6M453.0,357.8v4.6M454.6,357.8v4.6M456.2,357.8v4.6M457.8,357.8v4.6M459.4,357.8v4.6M461.0,357.9v4.6M462.6,357.9v4.6M464.2,357.9v4.6M467.4,357.9v4.6M469.0,358.0v4.6M470.6,358.0v4.6M472.2,358.0v4.6M475.4,358.0v4.6M477.0,358.1v4.6M478.6,358.1v4.6M480.2,358.2v4.6M483.4,359.2v4.6M485.0,359.2v4.6M486.6,359.3v4.6M488.2,359.3v4.6M491.4,359.3v4.6M493.0,359.4v4.6M494.6,359.4v4.6M497.8,359.4v4.6M499.4,359.5v4.6M501.0,359.5v4.6M502.6,359.5v4.6M504.2,359.5v4.6M505.8,359.6v4.6" stroke="#c4000e" stroke-width="1.0" fill="none"/>
<path d="M298.0,306.0 L303.8,309.2 L309.5,312.7 L315.3,313.8 L321.0,314.0 L326.8,316.1 L329.1,321.9 L332.6,324.2 L336.1,328.8 L343.0,330.6 L346.4,334.6 L348.7,338.1 L354.5,340.9 L357.5,346.1 L362.1,351.9 L367.8,359.6 L370.1,366.5 L374.8,368.8 L382.8,370.0 L385.1,376.9 L389.8,383.8 L395.5,387.3 L397.8,390.7 L402.4,393.1 L406.9,394.0 L409.2,401.6 L416.2,405.8 L434.6,407.6 L501.6,408.0 L503.9,413.2 L507.5,415.5" fill="none" stroke="#e4000f" stroke-width="1.9" stroke-linejoin="round" stroke-dasharray="5,3"/>
<path d="M304.2,307.1v4.6M321.8,312.0v4.6M345.8,331.6v4.6M374.6,366.4v4.6M376.2,366.7v4.6M381.0,367.4v4.6M392.2,383.0v4.6M393.8,384.0v4.6M414.6,402.5v4.6M419.4,403.8v4.6M421.0,404.0v4.6M430.6,404.9v4.6M435.4,405.3v4.6M438.6,405.3v4.6M449.8,405.4v4.6M454.6,405.4v4.6M456.2,405.4v4.6M457.8,405.4v4.6M465.8,405.5v4.6M473.8,405.5v4.6M475.4,405.5v4.6M481.8,405.6v4.6M486.6,405.6v4.6M488.2,405.6v4.6M489.8,405.6v4.6M491.4,405.6v4.6M494.6,405.7v4.6M496.2,405.7v4.6M497.8,405.7v4.6M501.0,405.7v4.6M504.2,411.1v4.6M505.8,412.1v4.6" stroke="#c4000e" stroke-width="1.0" fill="none"/>
<text transform="translate(441.6,327.9) scale(1,1.07)" font-size="8.35" class="lk">no d<tspan font-style="italic">IKZF1</tspan> (n=241)</text>
<text transform="translate(441.6,344.6) scale(1,1.07)" font-size="8.35" class="lk">d<tspan font-style="italic">IKZF1</tspan> (n=78)</text>
<text transform="translate(429.3,374.3) scale(1,1.07)" font-size="8.35" class="lr">no d<tspan font-style="italic">IZKF1</tspan> (n=276)</text>
<text transform="translate(429.2,421) scale(1,1.07)" font-size="8.35" class="lr">d<tspan font-style="italic">IKZF1</tspan> (n=85)</text>
<text transform="translate(306.9,464.6) scale(1,1.07)" font-size="8.35" class="lk">NCI SR:</text>
<text transform="translate(321.8,474.6) scale(1,1.07)" font-size="8.35" class="lk"><tspan font-style="italic">P</tspan>=.115</text>
<text transform="translate(321.8,484.6) scale(1,1.07)" font-size="8.35" class="lk">HR=1.55</text>
<text transform="translate(456.2,464.6) scale(1,1.07)" font-size="8.35" class="lr">NCI HR:</text>
<text transform="translate(471.2,474.6) scale(1,1.07)" font-size="8.35" class="lr"><tspan font-style="italic">P</tspan>&lt;.001</text>
<text transform="translate(471.2,484.6) scale(1,1.07)" font-size="8.35" class="lr">HR=2.23</text>
</g></svg></body></html>
